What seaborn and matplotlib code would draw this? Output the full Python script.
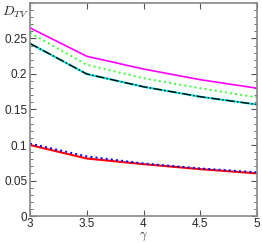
import matplotlib
matplotlib.use("Agg")
import matplotlib.pyplot as plt
import pandas as pd
import seaborn as sns
from matplotlib.ticker import MultipleLocator

gamma = [3.0, 3.5, 4.0, 4.5, 5.0]
d_magenta = [0.265, 0.225, 0.207, 0.192, 0.180]
d_green = [0.258, 0.213, 0.194, 0.180, 0.167]
d_cyan = [0.243, 0.200, 0.182, 0.168, 0.157]
d_black = [0.243, 0.200, 0.182, 0.168, 0.157]
d_red = [0.100, 0.081, 0.073, 0.066, 0.060]
d_blue = [0.102, 0.084, 0.074, 0.067, 0.0615]

sns.set_style("ticks")
plt.rcParams["font.family"] = ["Liberation Sans", "DejaVu Sans"]
plt.rcParams["mathtext.fontset"] = "cm"

fig = plt.figure(figsize=(2.62, 2.43), dpi=100)
ax = fig.add_axes([30 / 262, 27 / 243, 227 / 262, 213 / 243])

series = [
    (d_magenta, "#ff00ff", "-", 1.2),
    (d_green, "#33ff33", ":", 1.4),
    (d_cyan, "#00e5e5", "-", 1.5),
    (d_black, "black", "-.", 1.0),
    (d_red, "red", "-", 1.5),
    (d_blue, "blue", ":", 1.4),
]
for vals, color, ls, lw in series:
    df = pd.DataFrame({"gamma": gamma, "D": vals})
    sns.lineplot(data=df, x="gamma", y="D", color=color, linestyle=ls, linewidth=lw, ax=ax)

ax.set_xlim(3, 5)
ax.set_ylim(0, 0.3)
ax.set_xticks([3, 3.5, 4, 4.5, 5])
ax.set_xticklabels(["3", "3.5", "4", "4.5", "5"])
ax.set_yticks([0, 0.05, 0.1, 0.15, 0.2, 0.25])
ax.set_yticklabels(["0", "0.05", "0.1", "0.15", "0.2", "0.25"])
ax.yaxis.set_minor_locator(MultipleLocator(0.01))
ax.tick_params(which="both", direction="in", top=True, right=True, labelsize=8.5,
               color="#555555", pad=2)
ax.tick_params(axis="x", pad=1.5)
ax.tick_params(which="major", length=4)
ax.tick_params(which="minor", length=2)
for sp in ax.spines.values():
    sp.set_color("#888888")
    sp.set_linewidth(1.2)

ax.set_xlabel("")
ax.set_ylabel("")
fig.text(143 / 262, 0.5 / 243, r"$\gamma$", fontsize=9, va="bottom", ha="center")
fig.text(2 / 262, 1 - 12 / 243, r"$D_{TV}$", fontsize=10, va="center", ha="left")

fig.savefig("out.png", dpi=100)
